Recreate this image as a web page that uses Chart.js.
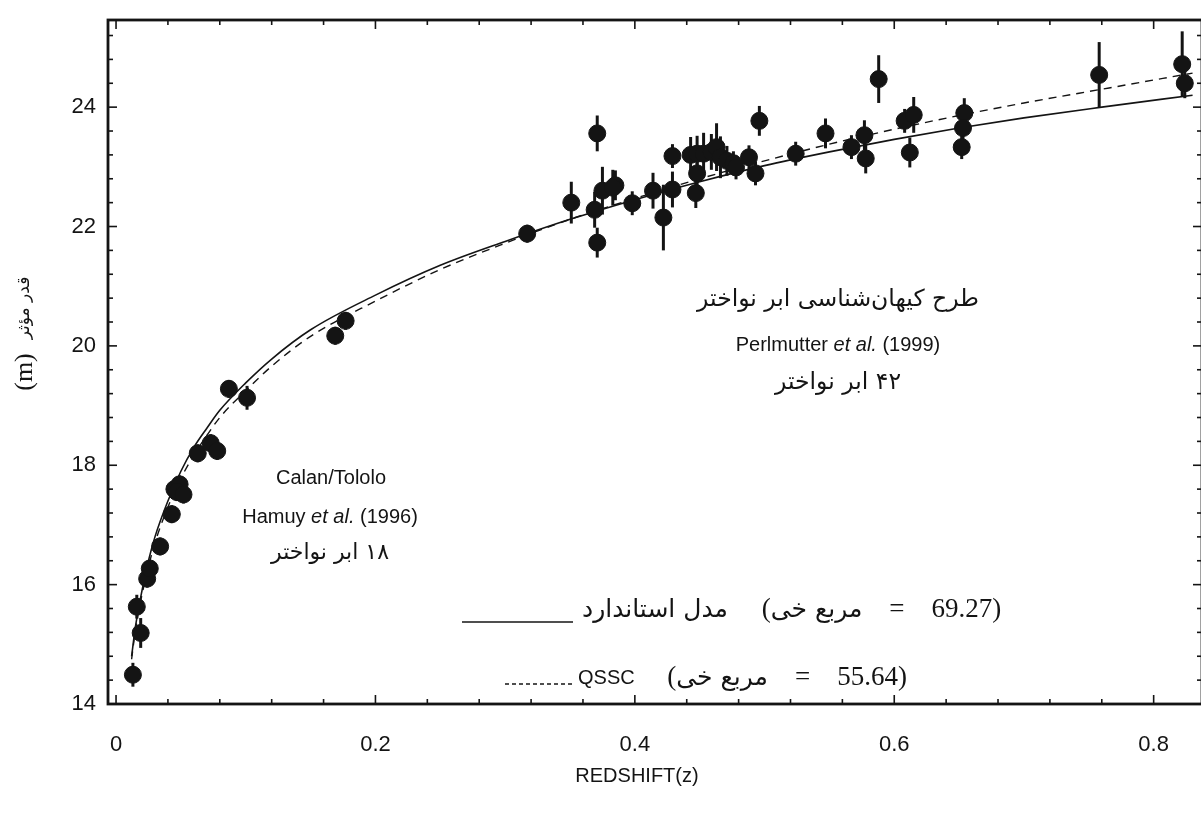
<!DOCTYPE html>
<html>
<head>
<meta charset="utf-8">
<script src="https://cdn.jsdelivr.net/npm/chart.js@4.4.0/dist/chart.umd.min.js"></script>
<style>
  html, body { margin: 0; padding: 0; background: #fff; }
  #wrap { width: 1201px; height: 816px; }
</style>
</head>
<body>
<div id="wrap"><canvas id="chart" width="1201" height="816"></canvas></div>
<script>
// Calan/Tololo supernovae (Hamuy et al. 1996)
const calanZ   = [0.013, 0.016, 0.019, 0.024, 0.026, 0.034, 0.043, 0.045, 0.049, 0.047, 0.052, 0.063, 0.073, 0.078, 0.087, 0.101, 0.169, 0.177];
const calanM   = [14.49, 15.63, 15.19, 16.10, 16.27, 16.64, 17.18, 17.60, 17.68, 17.55, 17.51, 18.20, 18.37, 18.24, 19.28, 19.13, 20.17, 20.42];
const calanErr = [0.20, 0.20, 0.25, 0.15, 0.15, 0.15, 0.15, 0.15, 0.15, 0.15, 0.15, 0.15, 0.15, 0.15, 0.15, 0.20, 0.15, 0.15];

// Supernova Cosmology Project (Perlmutter et al. 1999)
const perlZ   = [0.317, 0.351, 0.371, 0.369, 0.371, 0.375, 0.385, 0.383, 0.398, 0.414, 0.422, 0.429, 0.429, 0.443,
                 0.447, 0.448, 0.448, 0.453, 0.459, 0.463, 0.466, 0.471, 0.476, 0.478, 0.488, 0.493, 0.496, 0.524,
                 0.547, 0.567, 0.577, 0.578, 0.588, 0.608, 0.615, 0.612, 0.654, 0.653, 0.652, 0.758, 0.822, 0.824];
const perlM   = [21.88, 22.40, 23.56, 22.28, 21.73, 22.60, 22.69, 22.65, 22.39, 22.60, 22.15, 22.62, 23.18, 23.20,
                 22.56, 22.89, 23.22, 23.22, 23.25, 23.33, 23.16, 23.10, 23.06, 22.99, 23.16, 22.89, 23.77, 23.22,
                 23.56, 23.33, 23.53, 23.14, 24.47, 23.77, 23.87, 23.24, 23.90, 23.65, 23.33, 24.54, 24.72, 24.40];
const perlErr = [0.15, 0.35, 0.30, 0.30, 0.25, 0.40, 0.25, 0.30, 0.20, 0.30, 0.55, 0.30, 0.20, 0.30,
                 0.25, 0.25, 0.30, 0.35, 0.30, 0.40, 0.35, 0.25, 0.20, 0.20, 0.20, 0.20, 0.25, 0.20,
                 0.25, 0.20, 0.25, 0.25, 0.40, 0.20, 0.30, 0.25, 0.25, 0.20, 0.20, 0.55, 0.55, 0.25];

// model curves: standard model and QSSC
const curveZ    = [0.012, 0.015, 0.02, 0.025, 0.03, 0.04, 0.05, 0.06, 0.07, 0.08, 0.1, 0.12, 0.15,
                   0.2, 0.25, 0.3, 0.35, 0.4, 0.45, 0.5, 0.55, 0.6, 0.65, 0.7, 0.76, 0.83];
const standardM = [14.8, 15.3, 15.9, 16.4, 16.8, 17.4, 17.9, 18.3, 18.62, 18.92, 19.38, 19.78, 20.27,
                   20.85, 21.35, 21.75, 22.12, 22.45, 22.75, 23.02, 23.25, 23.46, 23.65, 23.82, 24.0, 24.2];
const qsscM     = [14.75, 15.25, 15.83, 16.3, 16.7, 17.3, 17.78, 18.17, 18.5, 18.8, 19.25, 19.66, 20.16,
                   20.75, 21.28, 21.72, 22.12, 22.47, 22.8, 23.1, 23.38, 23.63, 23.86, 24.07, 24.3, 24.57];

// axis ticks (minor ticks carry an empty label)
const xTicks = [0, 0.04, 0.08, 0.12, 0.16, 0.2, 0.24, 0.28, 0.32, 0.36, 0.4, 0.44, 0.48, 0.52, 0.56, 0.6, 0.64, 0.68, 0.72, 0.76, 0.8];
const xTickLabels = ['0', '', '', '', '', '0.2', '', '', '', '', '0.4', '', '', '', '', '0.6', '', '', '', '', '0.8'];
const yTicks = [14, 14.4, 14.8, 15.2, 15.6, 16, 16.4, 16.8, 17.2, 17.6, 18, 18.4, 18.8, 19.2, 19.6, 20,
                20.4, 20.8, 21.2, 21.6, 22, 22.4, 22.8, 23.2, 23.6, 24, 24.4, 24.8, 25.2];
const yTickLabels = ['14', '', '', '', '', '16', '', '', '', '', '18', '', '', '', '', '20',
                     '', '', '', '', '22', '', '', '', '', '24', '', '', ''];

const ink = '#141414';
const SANS = 'Liberation Sans, Arial, sans-serif';
const FA = 'DejaVu Sans, sans-serif';
const SERIF = 'Liberation Serif, DejaVu Serif, serif';

const pts = (xs, ys) => xs.map((v, i) => ({ x: v, y: ys[i] }));

// vertical error bars behind the dots
const errorBars = {
  id: 'errorBars',
  beforeDatasetsDraw(chart) {
    const { ctx, scales: { x, y } } = chart;
    ctx.save();
    ctx.strokeStyle = ink;
    ctx.lineWidth = 3;
    chart.data.datasets.forEach(ds => {
      if (!ds.errors) return;
      ds.data.forEach((p, i) => {
        const px = x.getPixelForValue(p.x);
        ctx.beginPath();
        ctx.moveTo(px, y.getPixelForValue(p.y - ds.errors[i]));
        ctx.lineTo(px, y.getPixelForValue(p.y + ds.errors[i]));
        ctx.stroke();
      });
    });
    ctx.restore();
  }
};

// box frame with inward ticks on all four sides
const frame = {
  id: 'frame',
  afterDatasetsDraw(chart) {
    const { ctx, chartArea: a, scales: { x, y } } = chart;
    const seg = (x1, y1, x2, y2) => { ctx.beginPath(); ctx.moveTo(x1, y1); ctx.lineTo(x2, y2); ctx.stroke(); };
    ctx.save();
    ctx.strokeStyle = ink;
    ctx.lineWidth = 2.8;
    ctx.strokeRect(a.left, a.top, a.right - a.left + 1, a.bottom - a.top);
    ctx.lineWidth = 1.6;
    xTicks.forEach((v, i) => {
      const px = x.getPixelForValue(v);
      const len = xTickLabels[i] ? 9 : 5;
      seg(px, a.bottom, px, a.bottom - len);
      seg(px, a.top, px, a.top + len);
    });
    yTicks.forEach((v, i) => {
      const py = y.getPixelForValue(v);
      const len = yTickLabels[i] ? 9 : 5;
      seg(a.left, py, a.left + len, py);
      seg(a.right + 1, py, a.right + 1 - len, py);
    });
    ctx.restore();
  }
};

// draw a row of text pieces left to right, each with its own font / direction
function row(ctx, parts, x0, yc, centered) {
  let w = 0;
  parts.forEach(p => { ctx.font = p.f; ctx.direction = p.rtl ? 'rtl' : 'ltr'; p.w = ctx.measureText(p.t).width; w += p.w; });
  let x = centered ? x0 - w / 2 : x0;
  parts.forEach(p => {
    ctx.font = p.f;
    ctx.direction = p.rtl ? 'rtl' : 'ltr';
    ctx.textAlign = 'left';
    ctx.fillText(p.t, x, yc);
    x += p.w;
  });
}

const notes = {
  id: 'notes',
  afterDraw(chart) {
    const { ctx } = chart;
    ctx.save();
    ctx.fillStyle = ink;
    ctx.textBaseline = 'middle';
    const sans = '20px ' + SANS, ital = 'italic 20px ' + SANS, fa = '22px ' + FA;
    const faBig = '25px ' + FA, serif = '27px ' + SERIF;

    row(ctx, [{ t: 'طرح کیهان‌شناسی ابر نواختر', f: '23.5px ' + FA, rtl: true }], 838, 300, true);
    row(ctx, [{ t: 'Perlmutter ', f: sans }, { t: 'et al.', f: ital }, { t: ' (1999)', f: sans }], 838, 345, true);
    row(ctx, [{ t: '۴۲ ابر نواختر', f: '23.5px ' + FA, rtl: true }], 838, 383, true);

    row(ctx, [{ t: 'Calan/Tololo', f: sans }], 331, 478, true);
    row(ctx, [{ t: 'Hamuy ', f: sans }, { t: 'et al.', f: ital }, { t: ' (1996)', f: sans }], 330, 517, true);
    row(ctx, [{ t: '۱۸ ابر نواختر', f: fa, rtl: true }], 330, 553, true);

    // x axis title
    row(ctx, [{ t: 'REDSHIFT(z)', f: '20px ' + SANS }], 637, 776, true);

    // legend
    ctx.strokeStyle = ink;
    ctx.lineWidth = 1.6;
    ctx.beginPath(); ctx.moveTo(462, 622); ctx.lineTo(573, 622); ctx.stroke();
    row(ctx, [{ t: 'مدل استاندارد', f: faBig, rtl: true }, { t: '     (', f: serif },
              { t: 'مربع خی', f: faBig, rtl: true }, { t: '    =    69.27)', f: serif }], 582, 610, false);
    ctx.setLineDash([4, 3]);
    ctx.lineWidth = 1.4;
    ctx.beginPath(); ctx.moveTo(505, 684); ctx.lineTo(572, 684); ctx.stroke();
    ctx.setLineDash([]);
    row(ctx, [{ t: 'QSSC ', f: sans }, { t: '    (', f: serif },
              { t: 'مربع خی', f: faBig, rtl: true }, { t: '    =    55.64)', f: serif }], 578, 678, false);

    // rotated y axis title
    ctx.translate(25, 372);
    ctx.rotate(-Math.PI / 2);
    row(ctx, [{ t: '(m)', f: '26px ' + SERIF }], 0, 0, true);
    row(ctx, [{ t: 'قدر مؤثر', f: '17px ' + FA, rtl: true }], 64, 0, true);
    ctx.restore();
  }
};

new Chart(document.getElementById('chart'), {
  type: 'scatter',
  data: {
    datasets: [
      { label: 'Calan/Tololo', data: pts(calanZ, calanM), errors: calanErr,
        pointRadius: 8.5, backgroundColor: ink, borderColor: ink, borderWidth: 1, order: 0 },
      { label: 'Perlmutter', data: pts(perlZ, perlM), errors: perlErr,
        pointRadius: 8.5, backgroundColor: ink, borderColor: ink, borderWidth: 1, order: 1 },
      { type: 'line', label: 'standard', data: pts(curveZ, standardM), borderColor: ink, borderWidth: 1.6,
        pointRadius: 0, fill: false, cubicInterpolationMode: 'monotone', order: 2 },
      { type: 'line', label: 'QSSC', data: pts(curveZ, qsscM), borderColor: ink, borderWidth: 1.4,
        borderDash: [8, 6], pointRadius: 0, fill: false, cubicInterpolationMode: 'monotone', order: 3 }
    ]
  },
  options: {
    responsive: false,
    animation: false,
    layout: { autoPadding: false, padding: { top: 20, right: 0, bottom: 0, left: 0 } },
    plugins: { legend: { display: false }, tooltip: { enabled: false } },
    scales: {
      x: {
        type: 'linear', min: -0.0062, max: 0.8365,
        afterFit: s => { s.height = 112; s.paddingLeft = 0; s.paddingRight = 0; },
        afterBuildTicks: s => { s.ticks = xTicks.map(v => ({ value: v })); },
        grid: { display: false, drawTicks: false },
        border: { display: false },
        ticks: { autoSkip: false, maxRotation: 0, padding: 28, color: ink,
                 font: { family: SANS, size: 22 }, callback: (v, i) => xTickLabels[i] }
      },
      y: {
        type: 'linear', min: 14, max: 25.46,
        afterFit: s => { s.width = 108; s.paddingTop = 0; s.paddingBottom = 0; },
        afterBuildTicks: s => { s.ticks = yTicks.map(v => ({ value: v })); },
        grid: { display: false, drawTicks: false },
        border: { display: false },
        ticks: { autoSkip: false, padding: 12, color: ink,
                 font: { family: SANS, size: 22 }, callback: (v, i) => yTickLabels[i] }
      }
    }
  },
  plugins: [errorBars, frame, notes]
});
</script>
</body>
</html>
